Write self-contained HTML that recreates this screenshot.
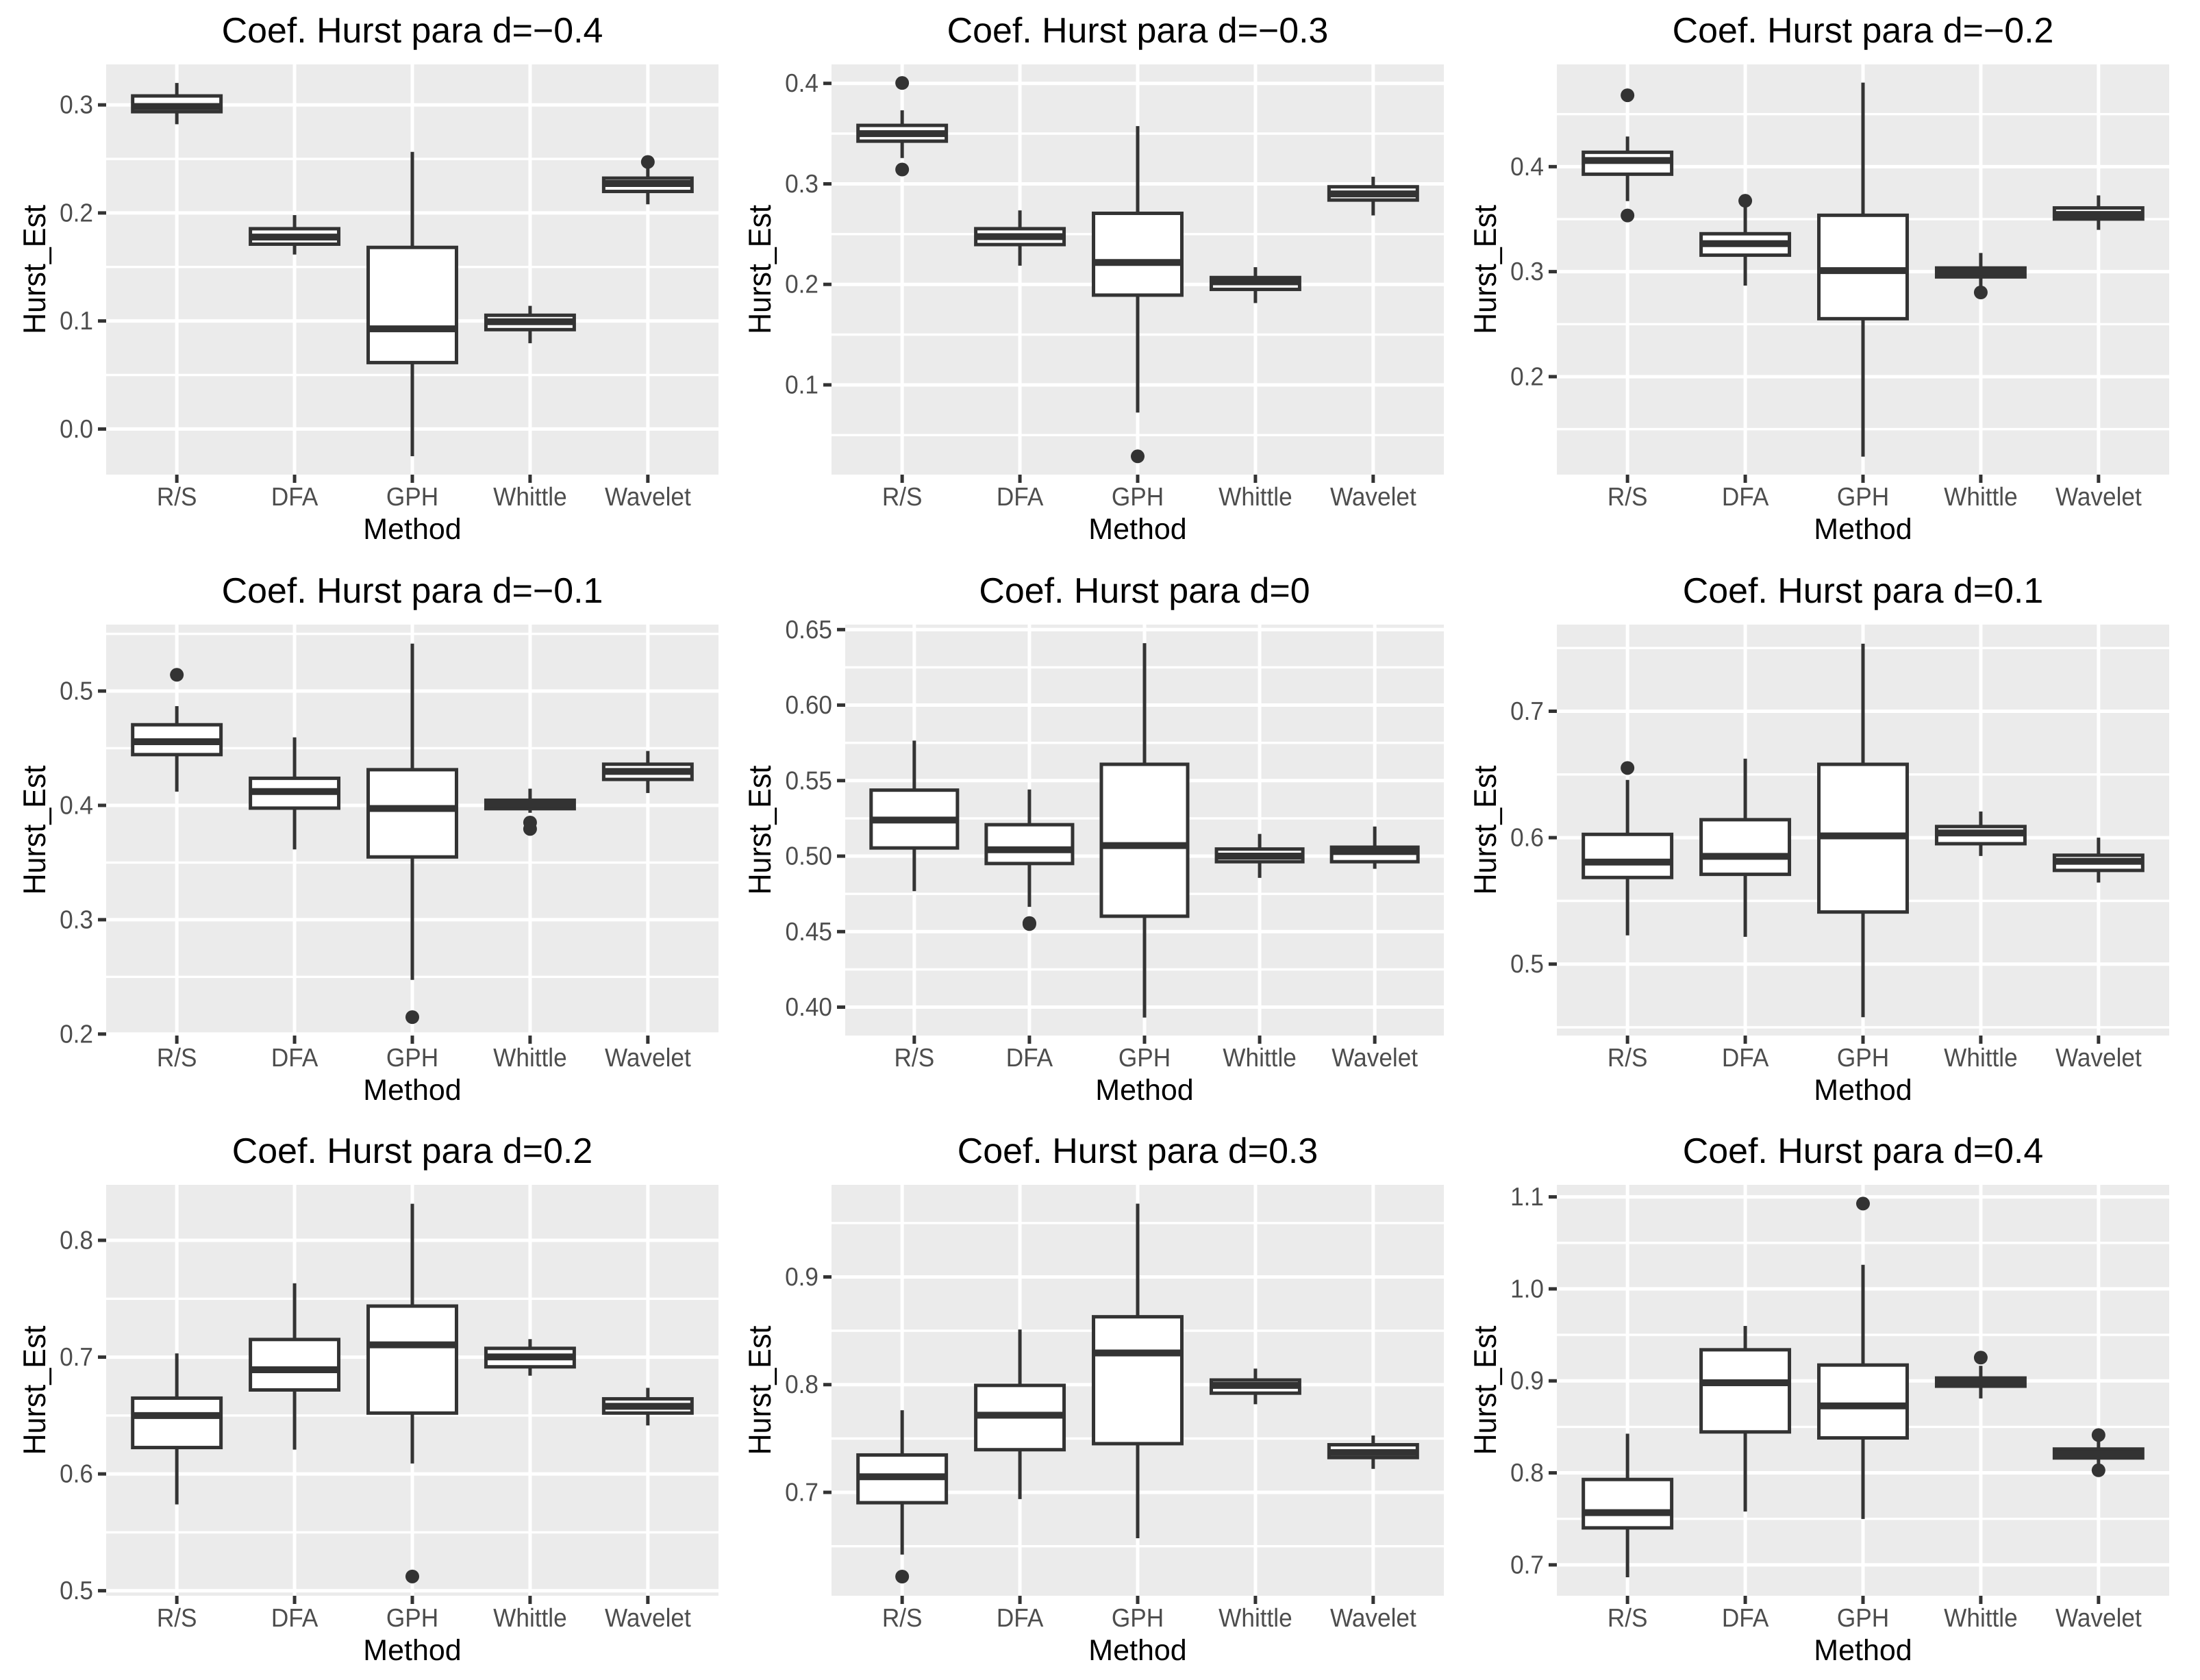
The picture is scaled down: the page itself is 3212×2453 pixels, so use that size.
<!DOCTYPE html>
<html lang="pt">
<head>
<meta charset="utf-8">
<title>Coef. Hurst</title>
<style>
html,body{margin:0;padding:0;background:#fff;}
svg{display:block;font-family:"Liberation Sans",Arial,sans-serif;text-rendering:geometricPrecision;}
</style>
</head>
<body>
<svg id="chart" xmlns="http://www.w3.org/2000/svg" width="3212" height="2453" viewBox="0 0 3212 2453"></svg>
<script>
// ---------- data ----------
const categories = ["R/S", "DFA", "GPH", "Whittle", "Wavelet"];
const panelTitles = [
  "Coef. Hurst para d=\u22120.4", "Coef. Hurst para d=\u22120.3", "Coef. Hurst para d=\u22120.2",
  "Coef. Hurst para d=\u22120.1", "Coef. Hurst para d=0", "Coef. Hurst para d=0.1",
  "Coef. Hurst para d=0.2", "Coef. Hurst para d=0.3", "Coef. Hurst para d=0.4"
];
const tickLabels = [
  ["0.0", "0.1", "0.2", "0.3"],
  ["0.1", "0.2", "0.3", "0.4"],
  ["0.2", "0.3", "0.4"],
  ["0.2", "0.3", "0.4", "0.5"],
  ["0.40", "0.45", "0.50", "0.55", "0.60", "0.65"],
  ["0.5", "0.6", "0.7"],
  ["0.5", "0.6", "0.7", "0.8"],
  ["0.7", "0.8", "0.9"],
  ["0.7", "0.8", "0.9", "1.0", "1.1"]
];
const yMin = [-0.0422, 0.0107, 0.1067, 0.1987, 0.3812, 0.4435, 0.4957, 0.604, 0.6664];
const yMax = [0.3375, 0.4189, 0.4974, 0.5581, 0.6533, 0.7685, 0.8475, 0.9855, 1.1131];
const whiskerHigh = [
  [0.3203, 0.198, 0.2565, 0.114, 0.2412],
  [0.3732, 0.2736, 0.3575, 0.2171, 0.3071],
  [0.4287, 0.3626, 0.48, 0.3178, 0.3726],
  [0.4868, 0.4595, 0.5415, 0.4146, 0.4476],
  [0.5765, 0.5441, 0.641, 0.5147, 0.5196],
  [0.6457, 0.6625, 0.7534, 0.6207, 0.6],
  [0.7032, 0.7632, 0.8313, 0.7154, 0.6737],
  [0.7762, 0.8512, 0.968, 0.8149, 0.7528],
  [0.8426, 0.9597, 1.0262, 0.9164, 0.8345]
];
const q3 = [
  [0.3083, 0.1854, 0.1681, 0.1053, 0.2322],
  [0.3582, 0.2554, 0.2707, 0.2068, 0.2971],
  [0.4137, 0.3361, 0.3537, 0.3035, 0.3607],
  [0.4705, 0.4237, 0.4312, 0.4045, 0.436],
  [0.5437, 0.5208, 0.5608, 0.5047, 0.5059],
  [0.6026, 0.6142, 0.658, 0.6088, 0.5861],
  [0.6649, 0.7151, 0.7437, 0.7075, 0.6643],
  [0.7347, 0.7993, 0.863, 0.8043, 0.7442],
  [0.7928, 0.9338, 0.9172, 0.9031, 0.8259]
];
const medians = [
  [0.2985, 0.1777, 0.0927, 0.0993, 0.2272],
  [0.35, 0.2475, 0.2218, 0.2025, 0.29],
  [0.4058, 0.3267, 0.301, 0.2993, 0.3545],
  [0.4557, 0.4121, 0.3973, 0.4008, 0.4297],
  [0.5239, 0.5042, 0.507, 0.5, 0.503],
  [0.5807, 0.5852, 0.6014, 0.6037, 0.5813],
  [0.65, 0.6892, 0.7105, 0.7002, 0.6579],
  [0.7145, 0.7716, 0.8294, 0.7993, 0.737],
  [0.7568, 0.8979, 0.8728, 0.8986, 0.821]
];
const q1 = [
  [0.2937, 0.1711, 0.0615, 0.092, 0.2199],
  [0.3425, 0.2396, 0.1893, 0.195, 0.2839],
  [0.3928, 0.3157, 0.2552, 0.295, 0.3501],
  [0.4444, 0.3976, 0.3549, 0.3971, 0.4227],
  [0.5054, 0.4951, 0.4602, 0.4963, 0.4963],
  [0.5685, 0.571, 0.5412, 0.5952, 0.5741],
  [0.6226, 0.6719, 0.6521, 0.6917, 0.6521],
  [0.6904, 0.7396, 0.7452, 0.7921, 0.7323],
  [0.7402, 0.8445, 0.838, 0.8942, 0.8162]
];
const whiskerLow = [
  [0.2821, 0.1615, -0.0252, 0.0794, 0.208],
  [0.3257, 0.2186, 0.0725, 0.1814, 0.2686],
  [0.3672, 0.2867, 0.1238, 0.2856, 0.3398],
  [0.412, 0.3615, 0.2474, 0.3935, 0.4108],
  [0.4768, 0.4664, 0.3931, 0.4856, 0.4916],
  [0.5227, 0.5216, 0.458, 0.5855, 0.5645],
  [0.5739, 0.6208, 0.6089, 0.6841, 0.6415],
  [0.6422, 0.6937, 0.6574, 0.7818, 0.7218],
  [0.6865, 0.758, 0.7499, 0.8809, 0.8086]
];
const outliers = [
  [[], [], [], [], [0.2472]],
  [[0.4004, 0.3143], [], [0.0289], [], []],
  [[0.468, 0.3535], [0.3675], [], [0.2802], []],
  [[0.5142], [], [0.2148], [0.385, 0.3794], []],
  [[], [0.4557, 0.455], [], [], []],
  [[0.6551], [], [], [], []],
  [[], [], [0.5122], [], []],
  [[0.6218], [], [], [], []],
  [[], [], [1.0927], [0.9253], [0.8411, 0.8028]]
];

// ---------- layout ----------
const SVGNS = "http://www.w3.org/2000/svg";
const root = document.getElementById("chart");
const DARK = "#333333";
const TICK_TEXT = "#4D4D4D";
const TICK_FONT = 35.2;
const STRETCH = 1.07;

function el(parent, tag, attrs) {
  const node = document.createElementNS(SVGNS, tag);
  for (const k in attrs) node.setAttribute(k, attrs[k]);
  parent.appendChild(node);
  return node;
}

function drawPanel(p) {
  const col = p % 3, row = Math.floor(p / 3);
  const labels = tickLabels[p];
  const wide = labels[0].length > 3 ? 20 : 0;
  const left = 155 + 1059 * col + wide;
  const right = 1049 + 1059 * col;
  const top = [94, 912, 1730][row];
  const height = [599, 600, 600][row];
  const bottom = top + height;
  const W = right - left;

  const yScale = v => bottom - (v - yMin[p]) / (yMax[p] - yMin[p]) * height;
  const xScale = i => left + (i + 1 - 0.4) / 5.2 * W;
  const unit = W / 5.2;

  const g = el(root, "g", {});
  
  

  const bg = el(g, "rect", { x: left, y: top, width: W, height: height, fill: "#EBEBEB" });
  
  

  // minor grid lines
  const majors = labels.map(Number);
  const step = majors[1] - majors[0];
  for (let k = -1; k < majors.length; k++) {
    const v = majors[0] + (k + 0.5) * step;
    if (v <= yMin[p] || v >= yMax[p]) continue;
    const line = el(g, "line", { x1: left, x2: right, y1: yScale(v), y2: yScale(v), stroke: "#fff", "stroke-width": 3.4 });
    
    
  }
  // major horizontal grid lines, ticks, labels
  labels.forEach((lab, idx) => {
    const y = yScale(majors[idx]);
    const line = el(g, "line", { x1: left, x2: right, y1: y, y2: y, stroke: "#fff", "stroke-width": 5 });
    
    
    const tick = el(g, "line", { x1: left - 12, x2: left, y1: y, y2: y, stroke: DARK, "stroke-width": 5 });
    
    
    const t = el(g, "text", { "text-anchor": "end", "font-size": TICK_FONT, fill: TICK_TEXT,
      transform: "translate(" + (left - 19) + " " + (y + 12.5) + ") scale(1 " + STRETCH + ")" });
    t.textContent = lab;
    
    
  });
  // vertical grid lines, x ticks, labels
  categories.forEach((cat, i) => {
    const x = xScale(i);
    const line = el(g, "line", { x1: x, x2: x, y1: top, y2: bottom, stroke: "#fff", "stroke-width": 5 });
    
    
    const tick = el(g, "line", { x1: x, x2: x, y1: bottom, y2: bottom + 12, stroke: DARK, "stroke-width": 5 });
    
    
    const t = el(g, "text", { "text-anchor": "middle", "font-size": TICK_FONT, fill: TICK_TEXT,
      transform: "translate(" + x + " " + (bottom + 45) + ") scale(1 " + STRETCH + ")" });
    t.textContent = cat;
    
    
  });
  // boxes
  categories.forEach((cat, i) => {
    const x = xScale(i);
    const bw = unit * 0.75;
    const box = el(g, "g", {});
    
    

    const wh = el(box, "line", { x1: x, x2: x, y1: yScale(whiskerHigh[p][i]), y2: yScale(q3[p][i]), stroke: DARK, "stroke-width": 5 });
    
    
    const wl = el(box, "line", { x1: x, x2: x, y1: yScale(q1[p][i]), y2: yScale(whiskerLow[p][i]), stroke: DARK, "stroke-width": 5 });
    
    
    const rect = el(box, "rect", {
      x: x - bw / 2, y: yScale(q3[p][i]), width: bw, height: yScale(q1[p][i]) - yScale(q3[p][i]),
      fill: "#fff", stroke: DARK, "stroke-width": 5
    });
    
    
    const med = el(box, "line", { x1: x - bw / 2, x2: x + bw / 2, y1: yScale(medians[p][i]), y2: yScale(medians[p][i]), stroke: DARK, "stroke-width": 10 });
    
    
    outliers[p][i].forEach(v => {
      const c = el(box, "circle", { cx: x, cy: yScale(v), r: 10, fill: DARK });
      
      
    });
  });
  // titles
  const title = el(g, "text", { x: (left + right) / 2, y: top - 32, "text-anchor": "middle", "font-size": 51.9, fill: "#000" });
  title.textContent = panelTitles[p];
  
  

  const xt = el(g, "text", { x: (left + right) / 2, y: bottom + 94, "text-anchor": "middle", "font-size": 43, fill: "#000" });
  xt.textContent = "Method";
  
  

  const yx = 66 + 1059 * col, yy = (top + bottom) / 2;
  const yt = el(g, "text", { "text-anchor": "middle", "font-size": 43, fill: "#000",
    transform: "translate(" + yx + " " + yy + ") rotate(-90) scale(1 " + STRETCH + ")" });
  yt.textContent = "Hurst_Est";
  
  
}

panelTitles.forEach((_, p) => drawPanel(p));
</script>
</body>
</html>
